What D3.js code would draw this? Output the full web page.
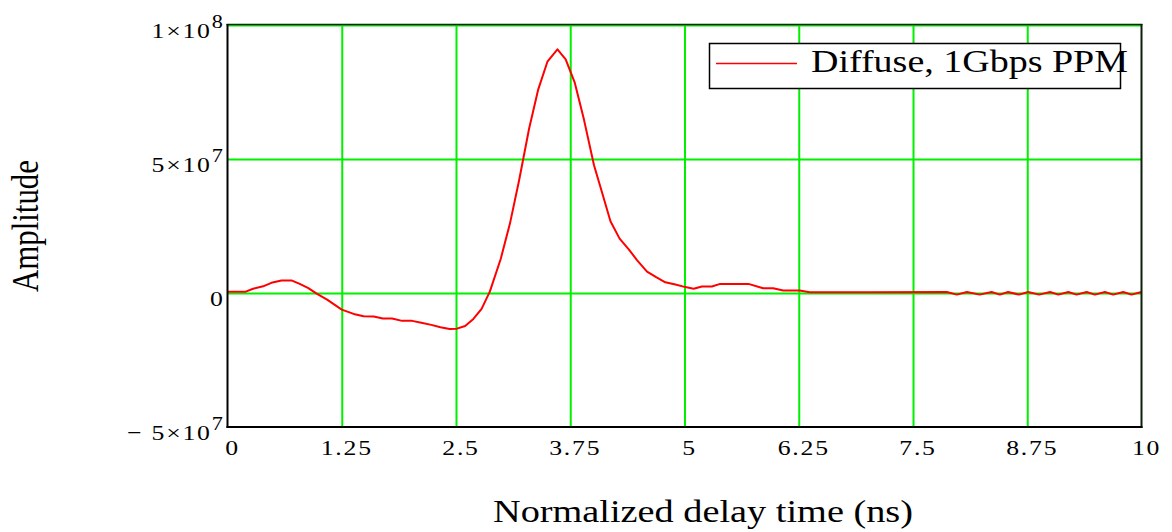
<!DOCTYPE html>
<html>
<head>
<meta charset="utf-8">
<script src="https://cdn.jsdelivr.net/npm/d3@7"></script>
<style>
  html, body { margin: 0; padding: 0; background: #fff; }
  svg { display: block; }
</style>
</head>
<body>
<svg id="chart" width="1172" height="532"></svg>
<script>
// ---- data (time in ns, amplitude in units of 1e6) ----
const timeNs = [0, 0.2, 0.28, 0.39, 0.48, 0.59, 0.70, 0.79, 0.88, 0.98, 1.09, 1.25, 1.38, 1.49, 1.60, 1.70, 1.80, 1.91, 2.02, 2.12, 2.23, 2.33, 2.43, 2.51, 2.60, 2.69, 2.78, 2.87, 2.99, 3.09, 3.19, 3.30, 3.40, 3.50, 3.61, 3.70, 3.80, 3.90, 4.01, 4.11, 4.19, 4.29, 4.39, 4.48, 4.59, 4.69, 4.79, 4.90, 5.01, 5.10, 5.19, 5.30, 5.39, 5.70, 5.86, 5.97, 6.08, 6.26, 6.37, 7.0, 7.87, 7.98, 8.09, 8.23, 8.36, 8.45, 8.54, 8.66, 8.76, 8.88, 9.0, 9.09, 9.2, 9.29, 9.4, 9.49, 9.6, 9.69, 9.8, 9.89, 10.0];
const amplitudeE6 = [0.5, 0.5, 1.6, 2.5, 3.8, 4.7, 4.7, 3.4, 1.9, -0.3, -2.5, -6.2, -7.8, -8.7, -8.8, -9.5, -9.5, -10.4, -10.4, -11.1, -11.9, -12.8, -13.4, -13.3, -12.3, -9.7, -5.9, 0.5, 12.8, 25.9, 42, 61.4, 76, 86.3, 90.9, 87.2, 78.4, 64.7, 47.7, 36.1, 26.8, 20.3, 16.3, 12.3, 8.0, 5.9, 4.0, 3.2, 2.2, 1.6, 2.4, 2.4, 3.4, 3.4, 1.8, 1.8, 0.9, 0.9, 0.3, 0.3, 0.4, -0.6, 0.4, -0.6, 0.4, -0.6, 0.4, -0.6, 0.4, -0.6, 0.4, -0.6, 0.4, -0.6, 0.4, -0.6, 0.4, -0.6, 0.4, -0.6, 0.4];

const xTickValues = [0, 1.25, 2.5, 3.75, 5, 6.25, 7.5, 8.75, 10];
const xTickLabels = ["0", "1.25", "2.5", "3.75", "5", "6.25", "7.5", "8.75", "10"];
const yTickValues = [-5e7, 0, 5e7, 1e8];
const yTickBase = ["\u2212 5\u00d710", "0", "5\u00d710", "1\u00d710"];
const yTickExp = ["7", "", "7", "8"];
const seriesName = "Diffuse, 1Gbps PPM";
const xTitle = "Normalized delay time (ns)";
const yTitle = "Amplitude";

// ---- layout ----
const L = 227.5, R = 1141.5, T = 25, B = 427;
const SX = 1.17; // horizontal stretch of the original rendering
const FONT = "'Liberation Serif', 'Times New Roman', serif";

const svg = d3.select("#chart");
svg.append("rect").attr("width", 1172).attr("height", 532).attr("fill", "#fff");

const x = d3.scaleLinear().domain([0, 10]).range([L, R]);
const y = d3.scaleLinear().domain([-5e7, 1e8]).range([B, T]);

// ---- grid ----
const gx = svg.append("g").attr("transform", `translate(0,${B})`)
  .call(d3.axisBottom(x).tickValues(xTickValues.slice(1, -1)).tickSize(-(B - T)).tickFormat(""));
gx.select(".domain").remove();
gx.selectAll("line").attr("stroke", "#00f000").attr("stroke-width", 2);

const gy = svg.append("g").attr("transform", `translate(${L},0)`)
  .call(d3.axisLeft(y).tickValues(yTickValues.slice(1)).tickSize(-(R - L)).tickFormat(""));
gy.select(".domain").remove();
gy.selectAll("line").attr("stroke", "#00f000").attr("stroke-width", 2);

// ---- curve ----
const pts = timeNs.map((t, i) => [t, amplitudeE6[i] * 1e6]);
svg.append("path")
  .datum(pts)
  .attr("fill", "none")
  .attr("stroke", "#ff0000")
  .attr("stroke-width", 2)
  .attr("stroke-linejoin", "round")
  .attr("d", d3.line().x(d => x(d[0])).y(d => y(d[1])));

// ---- frame ----
svg.append("line").attr("x1", L - 1).attr("x2", R + 1).attr("y1", T - 0.5).attr("y2", T - 0.5)
  .attr("stroke", "#0a200a").attr("stroke-width", 1.5);
svg.append("line").attr("x1", L).attr("x2", L).attr("y1", T - 1).attr("y2", B + 1)
  .attr("stroke", "#000").attr("stroke-width", 2);
svg.append("line").attr("x1", R).attr("x2", R).attr("y1", T - 1).attr("y2", B + 1)
  .attr("stroke", "#0a200a").attr("stroke-width", 2);
svg.append("line").attr("x1", L - 1).attr("x2", R + 1).attr("y1", B).attr("y2", B)
  .attr("stroke", "#000").attr("stroke-width", 2);

// ---- x tick labels ----
const xl = svg.append("g").attr("transform", `translate(0,${B})`)
  .call(d3.axisBottom(x).tickValues(xTickValues).tickSize(0).tickFormat((d, i) => xTickLabels[i]));
xl.select(".domain").remove();
xl.selectAll("text")
  .attr("font-family", FONT).attr("font-size", 22).attr("fill", "#000")
  .attr("letter-spacing", 1.5)
  .attr("text-anchor", "middle")
  .attr("dy", null)
  .attr("y", 28)
  .attr("x", 4.5 / SX)
  .attr("transform", `scale(${SX},1)`);

// ---- y tick labels ----
const yl = svg.append("g").attr("transform", `translate(${L},0)`)
  .call(d3.axisLeft(y).tickValues(yTickValues).tickSize(0).tickFormat(""));
yl.select(".domain").remove();
yl.selectAll(".tick").each(function (d, i) {
  const t = d3.select(this).select("text");
  t.text(null)
    .attr("font-family", FONT).attr("font-size", 22).attr("fill", "#000")
    .attr("letter-spacing", 1.5)
    .attr("text-anchor", "end")
    .attr("dy", null)
    .attr("y", 12)
    .attr("x", -3 / SX)
    .attr("transform", `scale(${SX},1)`);
  t.append("tspan").text(yTickBase[i]);
  if (yTickExp[i]) t.append("tspan").attr("dy", -10).attr("font-size", 19).text(yTickExp[i]);
});

// ---- legend ----
const lg = svg.append("g");
lg.append("rect").attr("x", 709.5).attr("y", 43.5).attr("width", 411).attr("height", 45)
  .attr("fill", "#fff").attr("stroke", "#000").attr("stroke-width", 1.5);
lg.append("line").attr("x1", 716).attr("x2", 797).attr("y1", 63.5).attr("y2", 63.5)
  .attr("stroke", "#ff0000").attr("stroke-width", 1.5);
lg.append("text").attr("x", 811).attr("y", 72)
  .attr("font-family", FONT).attr("font-size", 32).attr("fill", "#000")
  .attr("textLength", 317).attr("lengthAdjust", "spacingAndGlyphs")
  .text(seriesName);

// ---- axis titles ----
svg.append("text").attr("x", 493).attr("y", 522)
  .attr("font-family", FONT).attr("font-size", 32).attr("fill", "#000")
  .attr("textLength", 420).attr("lengthAdjust", "spacingAndGlyphs")
  .text(xTitle);

svg.append("text")
  .attr("transform", `translate(38,226) scale(${SX},1) rotate(-90)`)
  .attr("text-anchor", "middle")
  .attr("font-family", FONT).attr("font-size", 32).attr("fill", "#000")
  .attr("textLength", 132).attr("lengthAdjust", "spacingAndGlyphs")
  .text(yTitle);
</script>
</body>
</html>
